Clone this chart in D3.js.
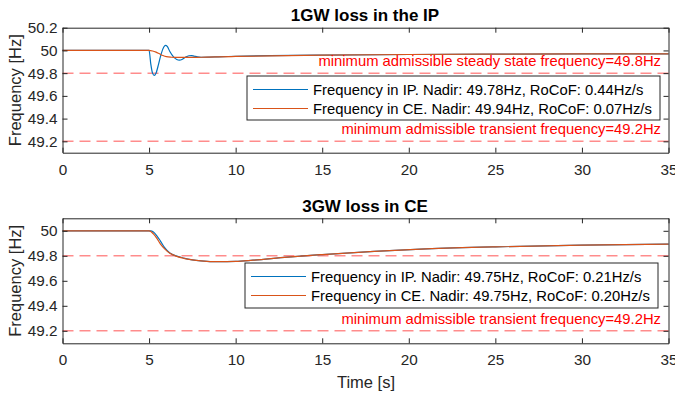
<!DOCTYPE html>
<html>
<head>
<meta charset="utf-8">
<script src="https://cdn.jsdelivr.net/npm/d3@7"></script>
<style>
  body { margin: 0; background: #fff; }
  svg { font-family: "Liberation Sans", Arial, sans-serif; }
</style>
</head>
<body>
<div id="chart"></div>
<script>
  // Panel 1: 1GW loss in the IP
  const t1_ip = [0, 5.0, 5.1, 5.2, 5.3, 5.4, 5.55, 5.7, 5.85, 5.95, 6.05, 6.2, 6.4, 6.6, 6.75, 6.9, 7.1, 7.3, 7.45, 7.6, 7.8, 8.0, 8.5, 9, 10, 12, 15, 20, 25, 30, 35];
  const f1_ip = [50, 50, 49.88, 49.8, 49.78, 49.80, 49.88, 49.97, 50.03, 50.045, 50.035, 49.99, 49.945, 49.92, 49.915, 49.92, 49.94, 49.953, 49.955, 49.95, 49.943, 49.94, 49.941, 49.944, 49.948, 49.954, 49.959, 49.964, 49.967, 49.969, 49.97];
  const t1_ce = [0, 5.0, 5.2, 5.4, 5.6, 5.8, 6.0, 6.3, 6.6, 7, 8, 9, 10, 12, 15, 20, 25, 30, 35];
  const f1_ce = [50, 50, 49.995, 49.985, 49.97, 49.955, 49.945, 49.94, 49.938, 49.938, 49.94, 49.943, 49.947, 49.952, 49.958, 49.964, 49.967, 49.969, 49.97];

  // Panel 2: 3GW loss in CE
  const t2_ip = [0, 5.0, 5.1, 5.25, 5.45, 5.65, 5.9, 6.2, 6.6, 7.0, 7.5, 8, 9, 10, 11, 13, 15, 18, 21, 25, 30, 35];
  const f2_ip = [50, 50, 50, 49.99, 49.96, 49.92, 49.865, 49.822, 49.797, 49.782, 49.768, 49.76, 49.753, 49.755, 49.765, 49.79, 49.81, 49.835, 49.855, 49.872, 49.886, 49.893];
  const t2_ce = [0, 5.0, 5.1, 5.25, 5.45, 5.65, 5.9, 6.2, 6.6, 7.0, 7.5, 8, 9, 10, 11, 13, 15, 18, 21, 25, 30, 35];
  const f2_ce = [50, 50, 49.995, 49.975, 49.94, 49.895, 49.855, 49.82, 49.795, 49.78, 49.768, 49.76, 49.753, 49.755, 49.765, 49.79, 49.81, 49.835, 49.855, 49.872, 49.886, 49.893];

  const xTicks = [0, 5, 10, 15, 20, 25, 30, 35];
  const yTicks1 = [49.2, 49.4, 49.6, 49.8, 50, 50.2];
  const yTicks2 = [49.2, 49.4, 49.6, 49.8, 50];

  const legend1 = ["Frequency in IP. Nadir: 49.78Hz, RoCoF: 0.44Hz/s",
                   "Frequency in CE. Nadir: 49.94Hz, RoCoF: 0.07Hz/s"];
  const legend2 = ["Frequency in IP. Nadir: 49.75Hz, RoCoF: 0.21Hz/s",
                   "Frequency in CE. Nadir: 49.75Hz, RoCoF: 0.20Hz/s"];

  const width = 675, height = 395;
  const blue = "#0072BD", orange = "#D95319", axisCol = "#262626";

  const svg = d3.select("#chart").append("svg")
    .attr("width", width).attr("height", height);

  function panel(cfg) {
    const x = d3.scaleLinear().domain([0, 35]).range([62.5, 668.5]);
    const y = d3.scaleLinear().domain(cfg.yDomain).range([cfg.bottom, cfg.top]);
    const g = svg.append("g");

    // limit lines
    cfg.limits.forEach(v => {
      g.append("line")
        .attr("x1", x(0)).attr("x2", x(35))
        .attr("y1", y(v)).attr("y2", y(v))
        .style("stroke", "#ff0000").style("stroke-opacity", 0.45)
        .style("stroke-width", 1.5).style("stroke-dasharray", "11,6");
    });

    // curves
    const line = d3.line().x(d => x(d[0])).y(d => y(d[1])).curve(d3.curveMonotoneX);
    const series = [
      { t: cfg.tIP, f: cfg.fIP, c: blue },
      { t: cfg.tCE, f: cfg.fCE, c: orange }
    ];
    series.forEach(s => {
      g.append("path")
        .datum(s.t.map((t, i) => [t, s.f[i]]))
        .attr("d", line)
        .style("fill", "none").style("stroke", s.c).style("stroke-width", 1.2);
    });

    // axes with inner ticks on all sides
    const xa = g.append("g").attr("transform", `translate(0,${cfg.bottom})`)
      .call(d3.axisBottom(x).tickValues(xTicks).tickSizeInner(-5).tickSizeOuter(0).tickPadding(11));
    const xt = g.append("g").attr("transform", `translate(0,${cfg.top})`)
      .call(d3.axisTop(x).tickValues(xTicks).tickSizeInner(-5).tickSizeOuter(0).tickFormat(""));
    const ya = g.append("g").attr("transform", `translate(${x(0)},0)`)
      .call(d3.axisLeft(y).tickValues(cfg.yTicks).tickSizeInner(-5).tickSizeOuter(0).tickPadding(5).tickFormat(d3.format("")));
    const yr = g.append("g").attr("transform", `translate(${x(35)},0)`)
      .call(d3.axisRight(y).tickValues(cfg.yTicks).tickSizeInner(-5).tickSizeOuter(0).tickFormat(""));
    [xa, xt, ya, yr].forEach(a => {
      a.select(".domain").style("stroke", axisCol).style("stroke-width", 1);
      a.selectAll(".tick line").style("stroke", axisCol);
      a.selectAll(".tick text").style("font-size", "15.3px").style("fill", axisCol)
        .style("font-family", "Liberation Sans, Arial, sans-serif");
    });

    // labels for limits
    cfg.limitLabels.forEach(l => {
      g.append("text")
        .attr("x", 661).attr("y", l.y)
        .attr("text-anchor", "end")
        .style("font-size", "14.8px").style("fill", "#ff0000")
        .text(l.text);
    });

    // legend
    const lg = g.append("g");
    lg.append("rect")
      .attr("x", cfg.legend.x).attr("y", cfg.legend.y)
      .attr("width", cfg.legend.w).attr("height", cfg.legend.h)
      .style("fill", "#fff").style("stroke", axisCol).style("stroke-width", 1);
    cfg.legend.labels.forEach((lab, i) => {
      const cy = cfg.legend.y + 13.5 + i * 19;
      lg.append("line")
        .attr("x1", cfg.legend.x + 6).attr("x2", cfg.legend.x + 61)
        .attr("y1", cy).attr("y2", cy)
        .style("stroke", i === 0 ? blue : orange).style("stroke-width", 1.2);
      lg.append("text")
        .attr("x", cfg.legend.x + 66).attr("y", cy + 5.3)
        .style("font-size", "14.8px").style("fill", "#000")
        .text(lab);
    });

    // title
    g.append("text")
      .attr("x", 365).attr("y", cfg.top - 6.5)
      .attr("text-anchor", "middle")
      .style("font-size", "17px").style("font-weight", "bold")
      .text(cfg.title);

    // y label
    g.append("text")
      .attr("transform", "rotate(-90)")
      .attr("x", -(cfg.top + cfg.bottom) / 2).attr("y", 21)
      .attr("text-anchor", "middle")
      .style("font-size", "16.5px").style("fill", axisCol)
      .text("Frequency [Hz]");
    return { x, y };
  }

  panel({
    top: 27.7, bottom: 152.7, yDomain: [49.1, 50.2], yTicks: yTicks1,
    tIP: t1_ip, fIP: f1_ip, tCE: t1_ce, fCE: f1_ce,
    limits: [49.8, 49.2],
    limitLabels: [
      { y: 66, text: "minimum admissible steady state frequency=49.8Hz" },
      { y: 134, text: "minimum admissible transient frequency=49.2Hz" }
    ],
    legend: { x: 247, y: 76, w: 413, h: 44, labels: legend1 },
    title: "1GW loss in the IP"
  });

  panel({
    top: 218.3, bottom: 343.3, yDomain: [49.1, 50.1], yTicks: yTicks2,
    tIP: t2_ip, fIP: f2_ip, tCE: t2_ce, fCE: f2_ce,
    limits: [49.8, 49.2],
    limitLabels: [
      { y: 324, text: "minimum admissible transient frequency=49.2Hz" }
    ],
    legend: { x: 245, y: 263, w: 413, h: 45, labels: legend2 },
    title: "3GW loss in CE"
  });

  svg.append("text")
    .attr("x", 366).attr("y", 387.5)
    .attr("text-anchor", "middle")
    .style("font-size", "16.5px").style("fill", axisCol)
    .text("Time [s]");
</script>
</body>
</html>
